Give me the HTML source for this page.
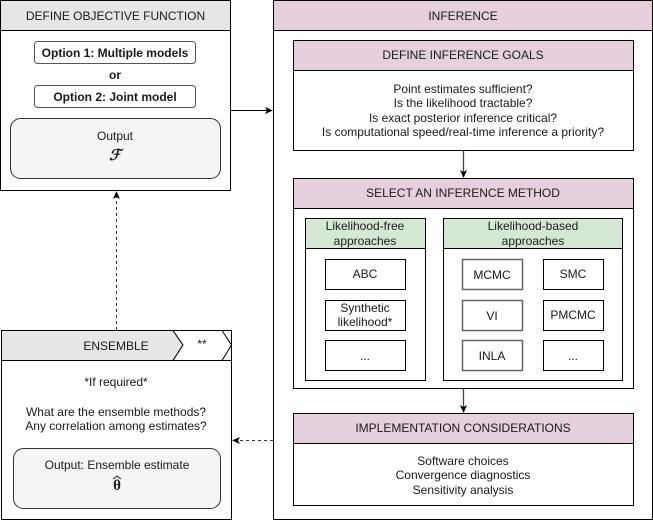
<!DOCTYPE html>
<html><head><meta charset="utf-8"><style>
html,body{margin:0;padding:0;background:#fff;}
svg text{font-family:"Liberation Sans",Arial,sans-serif;fill:#1a1a1a;}
</style></head><body>
<svg width="653" height="521" viewBox="0 0 653 521" xmlns="http://www.w3.org/2000/svg">
<defs>
<marker id="ah" markerWidth="8" markerHeight="8" refX="7" refY="4" orient="auto" markerUnits="userSpaceOnUse"><path d="M0,0.5 L8,4 L0,7.5 L2,4 Z" fill="#000"/></marker>
</defs>
<!-- Left top box -->
<rect x="0.5" y="0.5" width="230" height="190" fill="#fff" stroke="#000"/>
<rect x="0.5" y="0.5" width="230" height="30" fill="#e6e6e6" stroke="#000"/>
<text x="115.5" y="20" font-size="12" text-anchor="middle">DEFINE OBJECTIVE FUNCTION</text>
<rect x="34.5" y="41.5" width="161" height="22" rx="3" fill="#fff" stroke="#555"/>
<text x="115" y="57" font-size="12" font-weight="bold" text-anchor="middle">Option 1: Multiple models</text>
<text x="115" y="79" font-size="12" font-weight="bold" text-anchor="middle">or</text>
<rect x="34.5" y="85.5" width="161" height="22" rx="3" fill="#fff" stroke="#555"/>
<text x="115" y="101" font-size="12" font-weight="bold" text-anchor="middle">Option 2: Joint model</text>
<rect x="10.5" y="118.5" width="210" height="60" rx="10" fill="#f5f5f5" stroke="#333"/>
<text x="115" y="140" font-size="12" text-anchor="middle">Output</text>
<text x="115" y="160" font-size="15" font-style="italic" font-weight="bold" text-anchor="middle" style="font-family:'Liberation Serif',serif">ℱ</text>
<!-- Ensemble -->
<rect x="1.5" y="330.5" width="230" height="189" fill="#fff" stroke="#000"/>
<path d="M1.5,330.5 L173,330.5 L183,345 L173,360.5 L1.5,360.5 Z" fill="#e6e6e6" stroke="#000"/>
<path d="M173,330.5 L222,330.5 L231.5,345 L222,360.5 L173,360.5 L183,345 Z" fill="#fff" stroke="#000"/>
<line x1="1.5" y1="360.5" x2="231.5" y2="360.5" stroke="#000"/>
<text x="116" y="350" font-size="12" text-anchor="middle">ENSEMBLE</text>
<text x="202" y="348" font-size="12" text-anchor="middle">**</text>
<text x="116" y="386" font-size="12" text-anchor="middle">*If required*</text>
<text x="116" y="416" font-size="12" text-anchor="middle">What are the ensemble methods?</text>
<text x="116" y="430" font-size="12" text-anchor="middle">Any correlation among estimates?</text>
<rect x="13.5" y="448.5" width="207" height="60" rx="10" fill="#f5f5f5" stroke="#333"/>
<text x="117" y="469" font-size="12" text-anchor="middle">Output: Ensemble estimate</text>
<text x="117" y="490" font-size="15" font-weight="bold" text-anchor="middle" style="font-family:'Liberation Serif',serif">θ</text>
<path d="M113,479 L117,476 L121,479" fill="none" stroke="#222" stroke-width="1"/>
<!-- Right big -->
<rect x="273.5" y="0.5" width="379" height="519" fill="#fff" stroke="#000"/>
<rect x="273.5" y="0.5" width="379" height="30" fill="#e6d0de" stroke="#000"/>
<text x="463" y="20" font-size="12" text-anchor="middle">INFERENCE</text>
<!-- goals -->
<rect x="293.5" y="40.5" width="340" height="110" fill="#fff" stroke="#000"/>
<rect x="293.5" y="40.5" width="340" height="30" fill="#e6d0de" stroke="#000"/>
<text x="463" y="59" font-size="12" text-anchor="middle">DEFINE INFERENCE GOALS</text>
<text x="463" y="93" font-size="12" text-anchor="middle">Point estimates sufficient?</text>
<text x="463" y="107" font-size="12" text-anchor="middle">Is the likelihood tractable?</text>
<text x="463" y="122" font-size="12" text-anchor="middle">Is exact posterior inference critical?</text>
<text x="463" y="136" font-size="12" text-anchor="middle">Is computational speed/real-time inference a priority?</text>
<!-- select -->
<rect x="293.5" y="178.5" width="340" height="210" fill="#fff" stroke="#000"/>
<rect x="293.5" y="178.5" width="340" height="30" fill="#e6d0de" stroke="#000"/>
<text x="463" y="197" font-size="12" text-anchor="middle">SELECT AN INFERENCE METHOD</text>
<rect x="305.5" y="218.5" width="120" height="162" fill="#fff" stroke="#000"/>
<rect x="305.5" y="218.5" width="120" height="30" fill="#d5e8d4" stroke="#000"/>
<text x="365" y="230" font-size="12" text-anchor="middle">Likelihood-free</text>
<text x="365" y="245" font-size="12" text-anchor="middle">approaches</text>
<rect x="443.5" y="218.5" width="179" height="162" fill="#fff" stroke="#000"/>
<rect x="443.5" y="218.5" width="179" height="30" fill="#d5e8d4" stroke="#000"/>
<text x="533" y="230" font-size="12" text-anchor="middle">Likelihood-based</text>
<text x="533" y="245" font-size="12" text-anchor="middle">approaches</text>
<g fill="#fff" stroke="#000">
<rect x="325.5" y="259.5" width="80" height="30"/>
<rect x="325.5" y="300.5" width="80" height="30"/>
<rect x="325.5" y="340.5" width="80" height="30"/>
<rect x="462.5" y="259.5" width="60" height="30" stroke="#666" stroke-width="1.5"/>
<rect x="462.5" y="300.5" width="60" height="30" stroke="#666" stroke-width="1.5"/>
<rect x="462.5" y="340.5" width="60" height="30" stroke="#666" stroke-width="1.5"/>
<rect x="543.5" y="259.5" width="60" height="30"/>
<rect x="543.5" y="300.5" width="60" height="30"/>
<rect x="543.5" y="340.5" width="60" height="30"/>
</g>
<g font-size="12" text-anchor="middle">
<text x="365" y="278">ABC</text>
<text x="365" y="312">Synthetic</text>
<text x="365" y="326">likelihood*</text>
<text x="365" y="360">...</text>
<text x="492" y="279">MCMC</text>
<text x="492" y="320">VI</text>
<text x="492" y="360">INLA</text>
<text x="573" y="278">SMC</text>
<text x="573" y="319">PMCMC</text>
<text x="573" y="360">...</text>
</g>
<!-- impl -->
<rect x="293.5" y="413.5" width="340" height="92" fill="#fff" stroke="#000"/>
<rect x="293.5" y="413.5" width="340" height="30" fill="#e6d0de" stroke="#000"/>
<text x="463" y="432" font-size="12" text-anchor="middle">IMPLEMENTATION CONSIDERATIONS</text>
<text x="463" y="465" font-size="12" text-anchor="middle">Software choices</text>
<text x="463" y="479" font-size="12" text-anchor="middle">Convergence diagnostics</text>
<text x="463" y="494" font-size="12" text-anchor="middle">Sensitivity analysis</text>
<!-- connectors -->
<line x1="231" y1="110.5" x2="272" y2="110.5" stroke="#000" marker-end="url(#ah)"/>
<line x1="463.5" y1="151" x2="463.5" y2="177" stroke="#444" stroke-width="1.3" marker-end="url(#ah)"/>
<line x1="463.5" y1="389" x2="463.5" y2="412" stroke="#444" stroke-width="1.3" marker-end="url(#ah)"/>
<line x1="116.5" y1="330" x2="116.5" y2="192" stroke="#333" stroke-dasharray="3,3" marker-end="url(#ah)"/>
<line x1="273" y1="440.5" x2="233" y2="440.5" stroke="#333" stroke-dasharray="3,3" marker-end="url(#ah)"/>
</svg>
</body></html>
